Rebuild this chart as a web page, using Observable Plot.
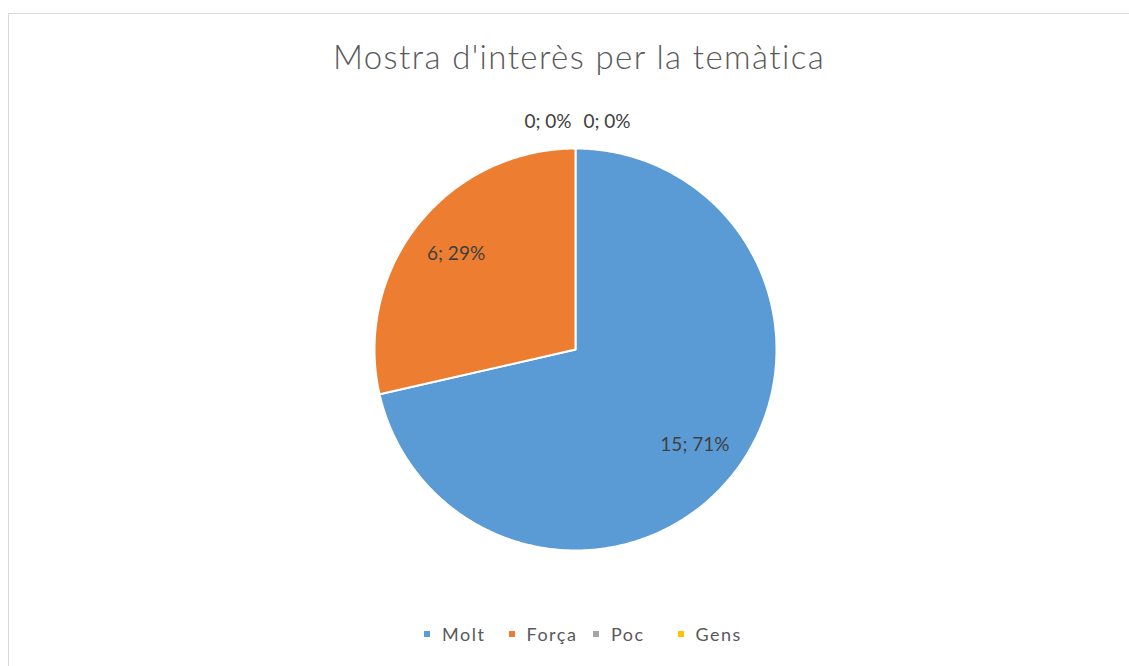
<!DOCTYPE html>
<html><head><meta charset="utf-8">
<script src="https://cdn.jsdelivr.net/npm/d3@7"></script>
<script src="https://cdn.jsdelivr.net/npm/@observablehq/plot@0.6"></script>
<style>
body{margin:0;width:1129px;height:666px;overflow:hidden;background:#fff;font-family:Lato,"Open Sans",sans-serif;position:relative}
#frame{position:absolute;left:8px;top:13px;width:1200px;height:700px;border:1px solid #d9d9d9;box-sizing:border-box}
#title{position:absolute;left:0;width:1158px;top:36px;line-height:40px;text-align:center;font-size:33px;letter-spacing:1.4px;color:#595959;font-weight:300;white-space:nowrap}
#chart{position:absolute;left:0;top:0}
#legend{position:absolute;left:424px;top:623px;display:flex;font-size:18px;letter-spacing:1.5px;color:#595959;line-height:22px}
#legend span.item{display:flex;align-items:center;width:84.5px}
#legend span.sw{display:inline-block;width:6px;height:6px;margin-right:12px}
</style></head>
<body>
<div id="frame"></div>
<div id="title">Mostra d'interès per la temàtica</div>
<div id="chart"></div>
<div id="legend"></div>
<script>
const categories = ["Molt", "Força", "Poc", "Gens"];
const values = [15, 6, 0, 0];
const colors = ["#5B9BD5", "#ED7D31", "#A5A5A5", "#FFC000"];

const total = d3.sum(values);
const arcs = d3.pie().sort(null).value(d => d)(values);

const marks = [];
arcs.forEach((a, i) => {
  if (a.endAngle - a.startAngle <= 0) return;
  const n = Math.max(2, Math.ceil((a.endAngle - a.startAngle) / 0.01));
  const pts = [{x: 0, y: 0}];
  for (let k = 0; k <= n; k++) {
    const t = a.startAngle + (a.endAngle - a.startAngle) * k / n;
    pts.push({x: Math.sin(t), y: Math.cos(t)});
  }
  pts.push({x: 0, y: 0});
  marks.push(Plot.line(pts, {x: "x", y: "y", fill: colors[i], stroke: "white", strokeWidth: 2, strokeLinejoin: "round", curve: "linear"}));
});

const labels = [];
let zeroCount = 0;
arcs.forEach((a, i) => {
  const txt = `${values[i]}; ${Math.round(values[i] / total * 100)}%`;
  if (values[i] === 0) {
    const left = zeroCount++ === 0;
    labels.push({x: 0, y: 1.13, dx: left ? -4 : 8, text: txt, anchor: left ? "end" : "start"});
  } else {
    const m = (a.startAngle + a.endAngle) / 2;
    const r = 0.76;
    labels.push({x: r * Math.sin(m), y: r * Math.cos(m), dx: 0, text: txt, anchor: "middle"});
  }
});
["end", "start", "middle"].forEach(anc => {
  labels.filter(l => l.anchor === anc).forEach(l => {
    marks.push(Plot.text([l], {x: "x", y: "y", text: "text", dx: l.dx, textAnchor: anc, fill: "#404040", fontSize: 19, letterSpacing: "1.6px"}));
  });
});

const plot = Plot.plot({
  width: 1129, height: 666,
  marginLeft: 374, marginRight: 353, marginTop: 148, marginBottom: 116,
  x: {domain: [-1, 1], axis: null},
  y: {domain: [-1, 1], axis: null},
  style: {fontFamily: "Lato, 'Open Sans', sans-serif", background: "transparent", overflow: "visible"},
  marks
});
document.getElementById("chart").appendChild(plot);

const leg = document.getElementById("legend");
categories.forEach((c, i) => {
  const it = document.createElement("span");
  it.className = "item";
  it.innerHTML = `<span class="sw" style="background:${colors[i]}"></span><span>${c}</span>`;
  leg.appendChild(it);
});
</script>
</body></html>
